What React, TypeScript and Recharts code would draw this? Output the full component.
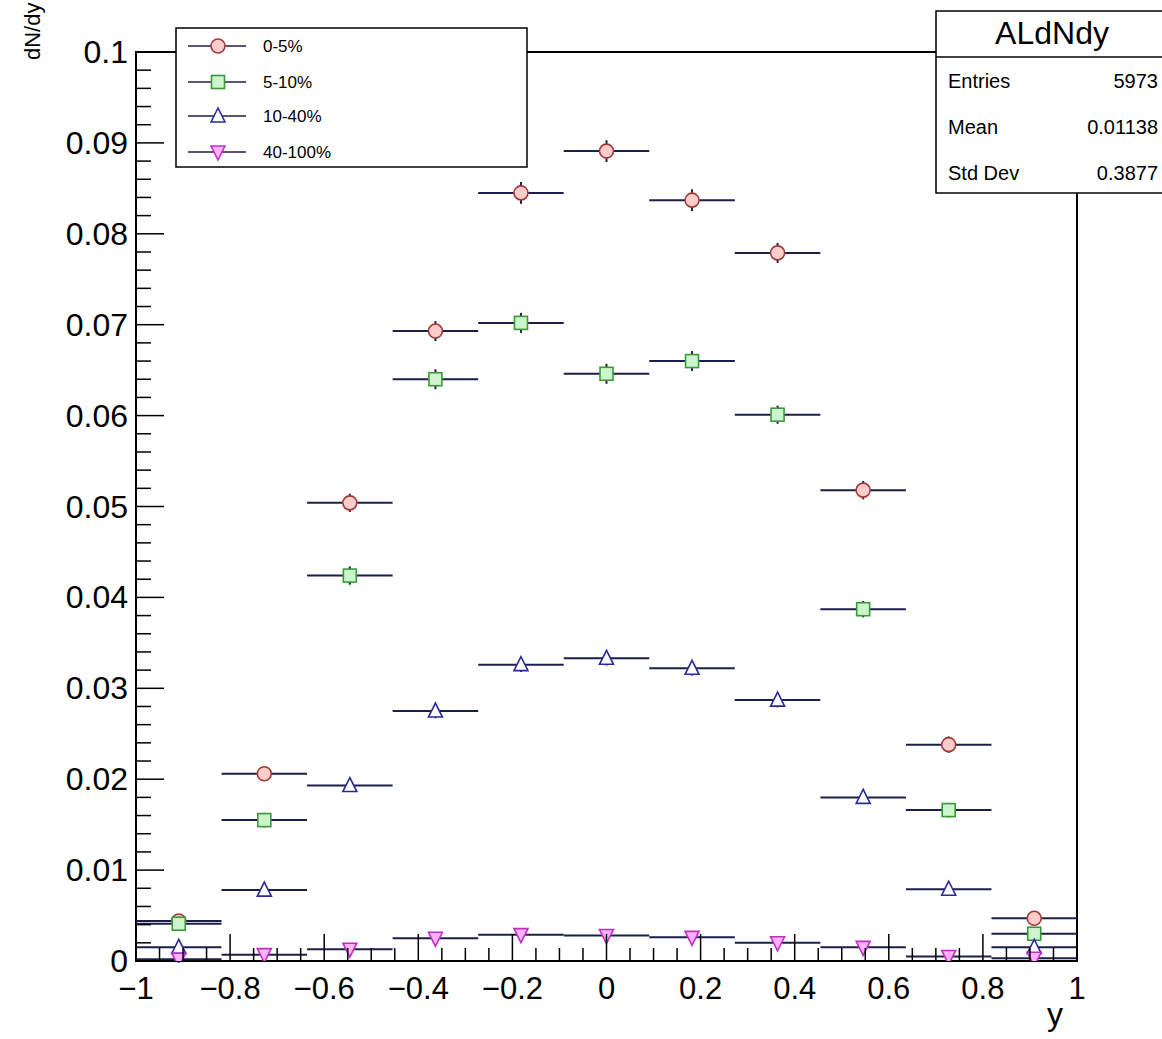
import React from 'react';
import {
  ComposedChart,
  Scatter,
  ErrorBar,
  XAxis,
  YAxis,
  ReferenceArea,
} from 'recharts';

// bin centres of the 11 rapidity bins in [-1, 1]
const binCenters = [-0.9091, -0.7273, -0.5455, -0.3636, -0.1818, 0, 0.1818, 0.3636, 0.5455, 0.7273, 0.9091];
const halfBin = 0.0909;

const seriesNames = ['0-5%', '5-10%', '10-40%', '40-100%'];

const values0to5 = [0.0044, 0.0206, 0.0504, 0.0693, 0.0845, 0.0891, 0.0837, 0.0779, 0.0518, 0.0238, 0.0047];
const values5to10 = [0.0041, 0.0155, 0.0424, 0.064, 0.0702, 0.0646, 0.066, 0.0601, 0.0387, 0.0166, 0.003];
const values10to40 = [0.0015, 0.0078, 0.0193, 0.0275, 0.0326, 0.0333, 0.0322, 0.0287, 0.018, 0.0079, 0.0015];
const values40to100 = [0.0002, 0.0007, 0.0013, 0.0025, 0.0029, 0.0028, 0.0026, 0.002, 0.0015, 0.0005, 0.0003];

const errors0to5 = [0.0007, 0.0008, 0.001, 0.0011, 0.0012, 0.0012, 0.0012, 0.0011, 0.001, 0.0009, 0.0007];
const errors5to10 = [0.0007, 0.0008, 0.001, 0.0011, 0.0011, 0.0011, 0.0011, 0.001, 0.0009, 0.0008, 0.0006];
const errors10to40 = [0.0005, 0.0006, 0.0007, 0.0008, 0.0008, 0.0008, 0.0008, 0.0008, 0.0007, 0.0006, 0.0005];
const errors40to100 = [0.0004, 0.0004, 0.0005, 0.0005, 0.0006, 0.0005, 0.0005, 0.0005, 0.0005, 0.0004, 0.0004];

// axis ticks and labels
const xMajor = [-1, -0.8, -0.6, -0.4, -0.2, 0, 0.2, 0.4, 0.6, 0.8, 1];
const xLabels = ['\u22121', '\u22120.8', '\u22120.6', '\u22120.4', '\u22120.2', '0', '0.2', '0.4', '0.6', '0.8', '1'];
const yMajor = [0, 0.01, 0.02, 0.03, 0.04, 0.05, 0.06, 0.07, 0.08, 0.09, 0.1];
const yLabels = ['0', '0.01', '0.02', '0.03', '0.04', '0.05', '0.06', '0.07', '0.08', '0.09', '0.1'];

const statsTitle = 'ALdNdy';
const statsRows = [
  ['Entries', '5973'],
  ['Mean', '0.01138'],
  ['Std Dev', '0.3877'],
];

// minor ticks: 4 between x majors, 5 between y majors
const xTicks: number[] = [];
for (let i = -20; i <= 20; i++) xTicks.push(i / 20);
const yTicks: number[] = [];
for (let i = 0; i <= 50; i++) yTicks.push(i / 500);

const FONT = '"Liberation Sans", Arial, Helvetica, sans-serif';
const LINE = '#1e1e4a';

const W = 1162;
const H = 1039;
const LEFT = 136;
const RIGHT = 1077;
const TOP = 52;
const BOTTOM = 961;
const Y_AXIS_W = 60;
const X_AXIS_H = 40;

type Style = { kind: string; fill: string; stroke: string };
const styles: Style[] = [
  { kind: 'circle', fill: '#ffcccc', stroke: '#a03a3a' },
  { kind: 'square', fill: '#ccf5cc', stroke: '#3a9a3a' },
  { kind: 'triangle', fill: '#ffffff', stroke: '#2a2a9a' },
  { kind: 'triangleDown', fill: '#ffb0ff', stroke: '#c030c0' },
];

const Marker = ({ cx, cy, s }: { cx: number; cy: number; s: Style }) => {
  const sw = 1.6;
  if (s.kind === 'circle') return <circle cx={cx} cy={cy} r={7} fill={s.fill} stroke={s.stroke} strokeWidth={sw} />;
  if (s.kind === 'square')
    return <rect x={cx - 6.5} y={cy - 6.5} width={13} height={13} fill={s.fill} stroke={s.stroke} strokeWidth={sw} />;
  if (s.kind === 'triangle')
    return (
      <polygon
        points={`${cx},${cy - 8} ${cx - 7},${cy + 6} ${cx + 7},${cy + 6}`}
        fill={s.fill}
        stroke={s.stroke}
        strokeWidth={sw}
      />
    );
  return (
    <polygon
      points={`${cx},${cy + 8} ${cx - 7},${cy - 6} ${cx + 7},${cy - 6}`}
      fill={s.fill}
      stroke={s.stroke}
      strokeWidth={sw}
    />
  );
};

const makeData = (vals: number[], errs: number[]) =>
  binCenters.map((x, i) => ({ x, y: vals[i], ex: halfBin, ey: errs[i] }));

const allSeries = [
  makeData(values0to5, errors0to5),
  makeData(values5to10, errors5to10),
  makeData(values10to40, errors10to40),
  makeData(values40to100, errors40to100),
];

const XTick = (props: any) => {
  const { x, y, payload } = props;
  const idx = xMajor.findIndex((m) => Math.abs(m - payload.value) < 1e-9);
  const major = idx >= 0;
  return (
    <g>
      <line x1={x} x2={x} y1={y} y2={y - (major ? 27 : 13)} stroke="#000" strokeWidth={1.5} />
      {major && (
        <text x={x} y={y + 38} textAnchor="middle" fontSize={31} fontFamily={FONT} fill="#000">
          {xLabels[idx]}
        </text>
      )}
    </g>
  );
};

const YTick = (props: any) => {
  const { x, y, payload } = props;
  const idx = yMajor.findIndex((m) => Math.abs(m - payload.value) < 1e-9);
  const major = idx >= 0;
  return (
    <g>
      <line x1={x} x2={x + (major ? 28 : 15)} y1={y} y2={y} stroke="#000" strokeWidth={1.5} />
      {major && (
        <text x={x - 8} y={y + 11} textAnchor="end" fontSize={32} fontFamily={FONT} fill="#000">
          {yLabels[idx]}
        </text>
      )}
    </g>
  );
};

const Overlay = () => {
  const legendY = [46, 82, 116, 152];
  return (
    <svg
      width={W}
      height={H}
      style={{ position: 'absolute', left: 0, top: 0, pointerEvents: 'none' }}
    >
      {/* y-axis title */}
      <text
        x={40}
        y={60}
        transform="rotate(-90, 40, 60)"
        fontSize={22}
        fontFamily={FONT}
        fill="#000"
      >
        dN/dy
      </text>
      {/* x-axis title */}
      <text x={1063} y={1025} textAnchor="end" fontSize={32} fontFamily={FONT} fill="#000">
        y
      </text>

      {/* legend */}
      <rect x={176} y={28} width={351} height={139} fill="#fff" stroke="#000" strokeWidth={1.5} />
      {seriesNames.map((name, i) => (
        <g key={name}>
          <line x1={188} x2={246} y1={legendY[i]} y2={legendY[i]} stroke={LINE} strokeWidth={1.6} />
          <Marker cx={218} cy={legendY[i]} s={styles[i]} />
          <text x={263} y={legendY[i] + 6} fontSize={17} fontFamily={FONT} fill="#000">
            {name}
          </text>
        </g>
      ))}

      {/* stats box */}
      <rect x={936} y={11} width={240} height={182} fill="#fff" stroke="#000" strokeWidth={1.5} />
      <line x1={936} x2={1162} y1={57} y2={57} stroke="#000" strokeWidth={1.5} />
      <text x={1052} y={44} textAnchor="middle" fontSize={32} fontFamily={FONT} fill="#000">
        {statsTitle}
      </text>
      {statsRows.map(([k, v], i) => (
        <g key={k}>
          <text x={948} y={88 + i * 46} fontSize={20} fontFamily={FONT} fill="#000">
            {k}
          </text>
          <text x={1158} y={88 + i * 46} textAnchor="end" fontSize={20} fontFamily={FONT} fill="#000">
            {v}
          </text>
        </g>
      ))}
    </svg>
  );
};

export default function App() {
  return (
    <div style={{ position: 'absolute', left: 0, top: 0, width: W, height: H, background: '#fff' }}>
      <ComposedChart
        width={W}
        height={H}
        margin={{
          top: TOP,
          right: W - RIGHT,
          bottom: H - BOTTOM - X_AXIS_H,
          left: LEFT - Y_AXIS_W,
        }}
      >
        <XAxis
          dataKey="x"
          type="number"
          domain={[-1, 1]}
          allowDataOverflow
          ticks={xTicks}
          interval={0}
          tickSize={0}
          tickMargin={0}
          tickLine={false}
          axisLine={false}
          height={X_AXIS_H}
          tick={<XTick />}
        />
        <YAxis
          type="number"
          domain={[0, 0.1]}
          allowDataOverflow
          ticks={yTicks}
          interval={0}
          tickSize={0}
          tickMargin={0}
          tickLine={false}
          axisLine={false}
          width={Y_AXIS_W}
          tick={<YTick />}
        />
        <ReferenceArea x1={-1} x2={1} y1={0} y2={0.1} fill="none" fillOpacity={0} stroke="#000" strokeWidth={2} />
        {allSeries.map((data, i) => (
          <Scatter
            key={seriesNames[i]}
            name={seriesNames[i]}
            data={data}
            dataKey="y"
            isAnimationActive={false}
            shape={(p: any) => <Marker cx={p.cx} cy={p.cy} s={styles[i]} />}
          >
            <ErrorBar dataKey="ex" direction="x" width={0} stroke={LINE} strokeWidth={2} />
            <ErrorBar dataKey="ey" direction="y" width={0} stroke={LINE} strokeWidth={2} />
          </Scatter>
        ))}
      </ComposedChart>
      <Overlay />
    </div>
  );
}
